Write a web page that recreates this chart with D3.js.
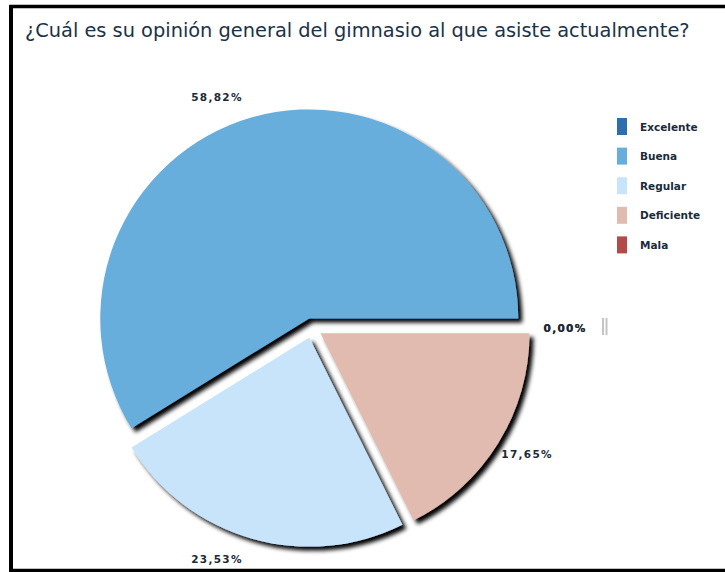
<!DOCTYPE html>
<html>
<head>
<meta charset="utf-8">
<script src="https://cdn.jsdelivr.net/npm/d3@7"></script>
<style>
  html, body { margin: 0; padding: 0; background: #fff; }
  svg { display: block; }
</style>
</head>
<body>
<svg id="chart" width="725" height="572"></svg>
<script>
// Survey answers and their share of responses (%)
const categories = ["Excelente", "Buena", "Regular", "Deficiente", "Mala"];
const values = [0, 58.82, 23.53, 17.65, 0];
const colors = ["#2E6EAE", "#67AEDD", "#C7E4FB", "#E1BBB0", "#B24A48"];
const title = "¿Cuál es su opinión general del gimnasio al que asiste actualmente?";

const W = 725, H = 572;
const cx = 312, cy = 328, R = 209, explode = 10;

const svg = d3.select("#chart");

// drop shadow for the slices
const defs = svg.append("defs");
const f = defs.append("filter").attr("id", "shadow")
  .attr("x", "-20%").attr("y", "-20%").attr("width", "140%").attr("height", "140%");
f.append("feDropShadow")
  .attr("dx", 4).attr("dy", 4).attr("stdDeviation", 2.2)
  .attr("flood-color", "#000").attr("flood-opacity", 1);

// frame
svg.append("rect").attr("width", W).attr("height", H).attr("fill", "#fff");
svg.append("rect")
  .attr("x", 11).attr("y", 6.5).attr("width", W + 20).attr("height", 564)
  .attr("fill", "none").attr("stroke", "#000").attr("stroke-width", 3.5);
svg.append("rect").attr("x", 9).attr("y", 5).attr("width", 4).attr("height", 567).attr("fill", "#000");

// title, fitted to its line
const t = svg.append("text")
  .attr("x", 25).attr("y", 37)
  .attr("font-family", "DejaVu Sans, Verdana, sans-serif")
  .attr("font-size", 17)
  .attr("fill", "#1b3247")
  .text(title);
const tw = t.node().getComputedTextLength();
t.attr("font-size", 17 * 665 / tw);

// pie, counter-clockwise from three o'clock
const pie = d3.pie().sort(null).value(d => d)
  .startAngle(Math.PI / 2).endAngle(Math.PI / 2 - 2 * Math.PI);
const arcs = pie(values);
const arc = d3.arc().innerRadius(0).outerRadius(R);

const dir = d => {
  const a = (d.startAngle + d.endAngle) / 2;
  return [Math.sin(a), -Math.cos(a)];
};

const g = svg.append("g").attr("transform", `translate(${cx},${cy})`);

g.selectAll("path.slice")
  .data(arcs)
  .join("path")
  .attr("class", "slice")
  .attr("d", arc)
  .attr("fill", (d, i) => colors[i])
  .attr("filter", "url(#shadow)")
  .attr("transform", d => {
    const [ux, uy] = dir(d);
    return `translate(${ux * explode},${uy * explode})`;
  });

// percentage labels, placed around each exploded slice
const loc = d3.formatLocale({ decimal: ",", thousands: ".", grouping: [3], currency: ["", "€"] });
const fmt = loc.format(".2f");
const lrx = 243, lry = 230;

g.selectAll("text.pct")
  .data(arcs)
  .join("text")
  .attr("class", "pct")
  .attr("font-family", "DejaVu Sans, Verdana, sans-serif")
  .attr("font-size", 10.5)
  .attr("font-weight", "bold")
  .attr("letter-spacing", 1.3)
  .attr("fill", "#1c2a36")
  .attr("dominant-baseline", "central")
  .attr("x", d => { const [ux] = dir(d); return ux * (explode + lrx); })
  .attr("y", d => { const [, uy] = dir(d); return uy * (explode + lry); })
  .attr("text-anchor", d => dir(d)[0] < -0.2 ? "end" : "middle")
  .text(d => fmt(d.data) + "%");

// legend
const lg = svg.append("g").attr("transform", "translate(617,118)");
const items = lg.selectAll("g").data(categories).join("g")
  .attr("transform", (d, i) => `translate(0,${i * 29.6})`);
items.append("rect").attr("width", 10).attr("height", 17)
  .attr("fill", (d, i) => colors[i]);
items.append("text")
  .attr("x", 23).attr("y", 12.5)
  .attr("font-family", "DejaVu Sans, Verdana, sans-serif")
  .attr("font-size", 10.5)
  .attr("font-weight", "bold")
  .attr("fill", "#1a2b3c")
  .text(d => d);

// small grip marks beside the chart
svg.append("rect").attr("x", 602).attr("y", 318).attr("width", 2).attr("height", 17).attr("fill", "#c4c4c4");
svg.append("rect").attr("x", 605.5).attr("y", 318).attr("width", 2).attr("height", 17).attr("fill", "#c4c4c4");
</script>
</body>
</html>
